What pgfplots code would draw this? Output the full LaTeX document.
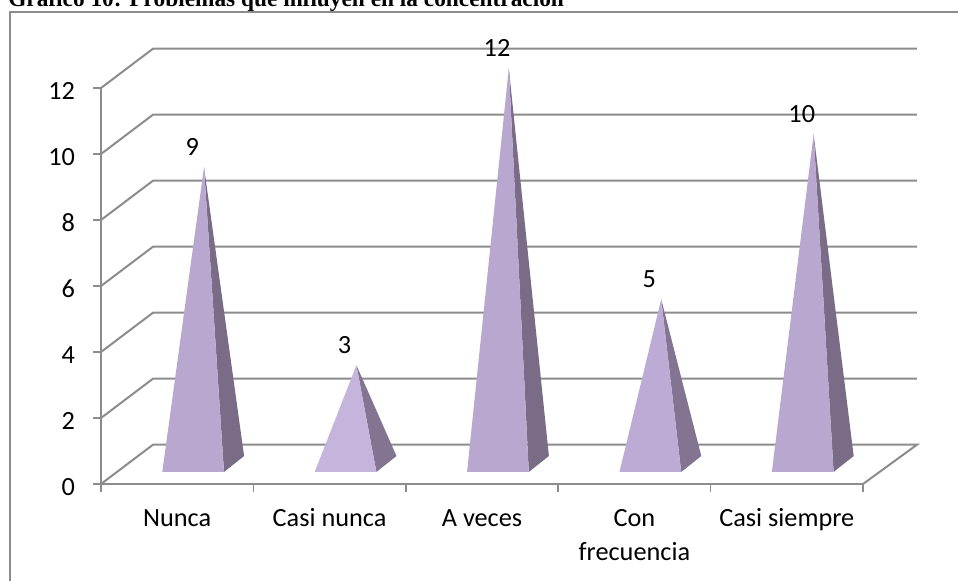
\documentclass[border=0pt]{standalone}
\usepackage{pgfplots}
\pgfplotsset{compat=1.18}
\usepackage{fontspec}
\setmainfont{Carlito}
\newfontfamily\titlefont{Liberation Serif}
\definecolor{gridc}{HTML}{8C8C8C}
\definecolor{fr}{HTML}{B8A7CF}
\definecolor{frl}{HTML}{C5B5DD}
\definecolor{frm}{HTML}{BCACD5}
\definecolor{sd}{HTML}{7A6B87}
\definecolor{sdl}{HTML}{837592}
\begin{document}
\begin{tikzpicture}
\path[use as bounding box] (0,0) rectangle (718.5pt,-435.75pt);
\node[anchor=base west,inner sep=0pt,font=\titlefont\bfseries\fontsize{17.5pt}{20pt}\selectfont] at (6pt,-5.2pt) {Gráfico 10: Problemas que influyen en la concentración};
\draw[gridc,line width=1.5pt] (718.5pt,-9pt) -- (7.5pt,-9pt) -- (7.5pt,-435.75pt);
\begin{axis}[
  at={(75.75pt,-363pt)},anchor=south west,
  scale only axis,width=571.5pt,height=297pt,
  xmin=0,xmax=5,ymin=0,ymax=12,clip=false,
  axis lines=left,axis line style={-,gridc,line width=1.5pt},
  every tick/.style={gridc,line width=1.2pt},
  major tick length=6pt,
  ytick={0,2,4,6,8,10,12},
  xtick={0,1,2,3,4,5},
  tick align=outside,
  x tick label as interval,
  xticklabels={{\strut Nunca},{\strut Casi nunca},{\strut A veces},{\strut Con\\\strut frecuencia},{\strut Casi siempre}},
  xticklabel style={align=center,anchor=north,yshift=-5pt,font=\fontsize{19.7pt}{25pt}\selectfont},
  yticklabel style={font=\fontsize{19.7pt}{22pt}\selectfont,xshift=-10pt,yshift=-2pt},
  /pgf/number format/assume math mode=true,
]
% grid on floor, walls
\addplot[gridc,line width=1.5pt] coordinates {(0,0) (0.341,1.19) (5.354,1.19) (5,0)};
\addplot[gridc,line width=1.5pt] coordinates {(0,2) (0.341,3.19) (5.354,3.19)};
\addplot[gridc,line width=1.5pt] coordinates {(0,4) (0.341,5.19) (5.354,5.19)};
\addplot[gridc,line width=1.5pt] coordinates {(0,6) (0.341,7.19) (5.354,7.19)};
\addplot[gridc,line width=1.5pt] coordinates {(0,8) (0.341,9.19) (5.354,9.19)};
\addplot[gridc,line width=1.5pt] coordinates {(0,10) (0.341,11.19) (5.354,11.19)};
\addplot[gridc,line width=1.5pt] coordinates {(0,12) (0.341,13.19) (5.354,13.19)};
% pyramids: side face, then front face
\addplot[fill=sd,draw=none] coordinates {(0.807,0.364) (0.939,0.848) (0.676,9.60)} -- cycle;
\addplot[fill=fr,draw=none] coordinates {(0.402,0.364) (0.807,0.364) (0.676,9.60)} -- cycle;
\addplot[fill=sdl,draw=none] coordinates {(1.807,0.364) (1.939,0.848) (1.676,3.60)} -- cycle;
\addplot[fill=frl,draw=none] coordinates {(1.402,0.364) (1.807,0.364) (1.676,3.60)} -- cycle;
\addplot[fill=sd,draw=none] coordinates {(2.807,0.364) (2.939,0.848) (2.676,12.60)} -- cycle;
\addplot[fill=fr,draw=none] coordinates {(2.402,0.364) (2.807,0.364) (2.676,12.60)} -- cycle;
\addplot[fill=sdl,draw=none] coordinates {(3.807,0.364) (3.939,0.848) (3.676,5.60)} -- cycle;
\addplot[fill=frm,draw=none] coordinates {(3.402,0.364) (3.807,0.364) (3.676,5.60)} -- cycle;
\addplot[fill=sd,draw=none] coordinates {(4.807,0.364) (4.939,0.848) (4.676,10.60)} -- cycle;
\addplot[fill=fr,draw=none] coordinates {(4.402,0.364) (4.807,0.364) (4.676,10.60)} -- cycle;
% values and their labels
\addplot[draw=none,mark=none,nodes near coords,
  every node near coord/.style={anchor=center,xshift=11.25pt,yshift=30pt,font=\fontsize{19.7pt}{22pt}\selectfont,black},
  /pgf/number format/assume math mode=true]
  coordinates {(0.5,9) (1.5,3) (2.5,12) (3.5,5) (4.5,10)};
\end{axis}
\end{tikzpicture}
\end{document}
